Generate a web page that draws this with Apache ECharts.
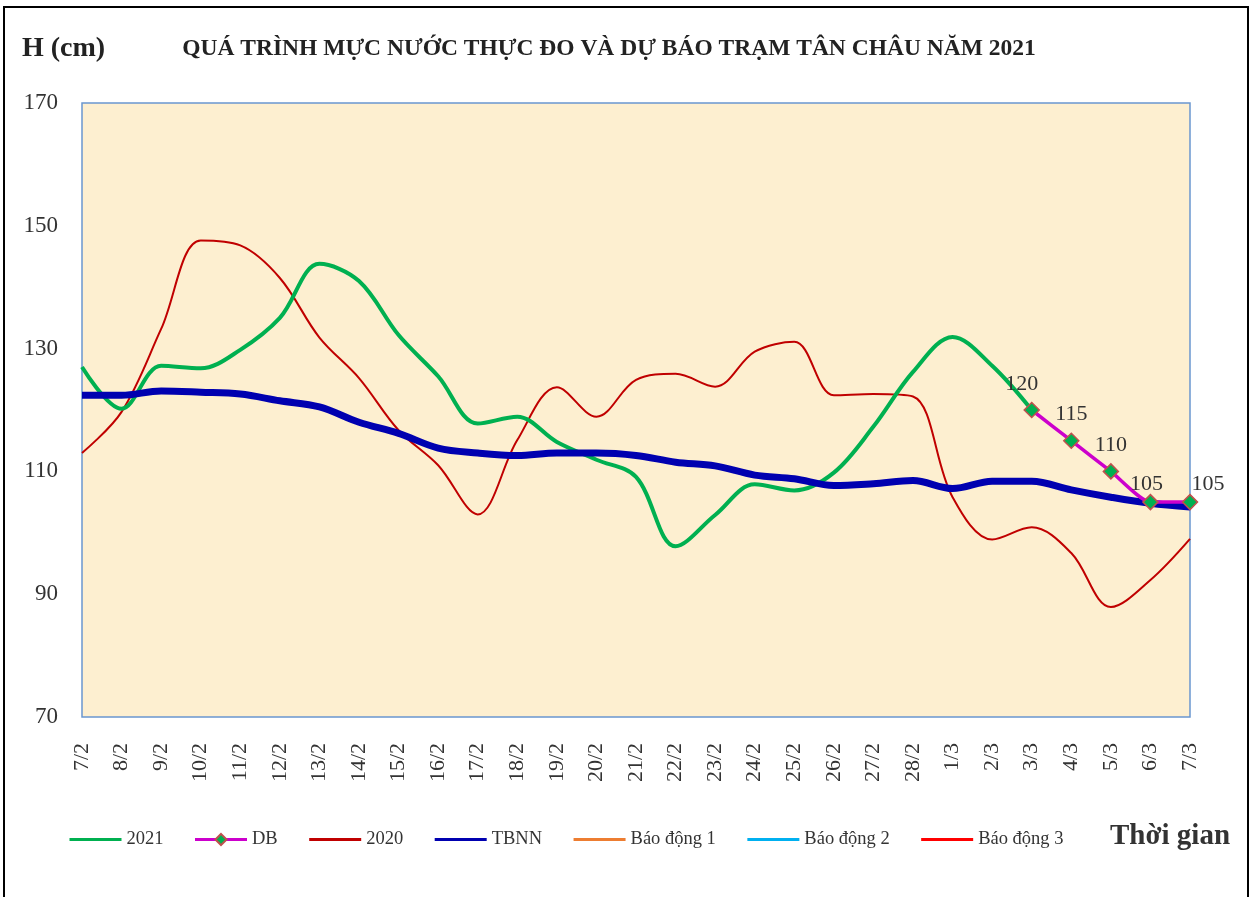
<!DOCTYPE html>
<html>
<head>
<meta charset="utf-8">
<script src="https://cdn.jsdelivr.net/npm/echarts@6/dist/echarts.min.js"></script>
<style>html,body{margin:0;padding:0;background:#fff;}#c{width:1256px;height:897px;}</style>
</head>
<body>
<div id="c"></div>
<script>
var categories = ['7/2','8/2','9/2','10/2','11/2','12/2','13/2','14/2','15/2','16/2','17/2','18/2','19/2','20/2','21/2','22/2','23/2','24/2','25/2','26/2','27/2','28/2','1/3','2/3','3/3','4/3','5/3','6/3','7/3'];
var s2021 = [127.0,120.2,127.2,126.8,129.8,135.0,143.8,141.0,132.2,125.5,117.8,118.9,114.8,111.9,109.1,97.8,102.9,107.9,106.9,109.8,117.3,126.2,131.9,127.2,120,null,null,null,null];
var sDB = [null,null,null,null,null,null,null,null,null,null,null,null,null,null,null,null,null,null,null,null,null,null,null,null,120,115,110,105,105];
var s2020 = [113.0,119.7,133.2,147.6,146.8,141.5,131.8,125.2,116.7,111.0,103.0,115.1,123.7,118.9,124.9,125.9,123.8,129.5,131.1,122.4,122.6,122.2,105.8,98.9,100.9,96.7,87.9,92.3,99.0];
var sTBNN = [122.4,122.4,123.1,122.9,122.6,121.5,120.5,118.0,116.2,113.8,113.0,112.6,113.0,113.0,112.6,111.5,110.9,109.4,108.8,107.7,108.0,108.5,107.2,108.4,108.4,107.0,105.8,104.8,104.2];
var sAlarm1 = [];
var sAlarm2 = [];
var sAlarm3 = [];
var legendNames = ['2021','DB','2020','TBNN','Báo động 1','Báo động 2','Báo động 3'];
var yTicks = {min: 70, max: 170, interval: 20};

var FONT = '"Liberation Serif","Times New Roman",serif';
var chart = echarts.init(document.getElementById('c'));

var dbData = sDB.map(function(v, i){
  if (v === null) return null;
  var off = [0, 0];
  if (i === 24) off = [-10, 0];
  if (i === 27) off = [-4, 8];
  if (i === 28) off = [18, 8];
  return {value: v, label: {offset: off}};
});

var legendData = legendNames.map(function(n){
  return n === 'DB' ? {name: n} : {name: n, itemStyle: {opacity: 0}};
});

chart.setOption({
  animation: false,
  backgroundColor: '#ffffff',
  title: {
    text: 'QUÁ TRÌNH MỰC NƯỚC THỰC ĐO VÀ DỰ BÁO TRẠM TÂN CHÂU NĂM 2021',
    left: 604, top: 32, textAlign: 'center',
    textStyle: {fontFamily: FONT, fontSize: 23.5, fontWeight: 'bold', color: '#222'}
  },
  graphic: [
    {type: 'rect', shape: {x: 4, y: 7, width: 1244, height: 910}, style: {fill: 'none', stroke: '#000', lineWidth: 2}, silent: true},
    {type: 'text', left: 22, top: 35, style: {text: 'H (cm)', font: 'bold 28px ' + FONT, fill: '#222'}},
    {type: 'text', left: 1110, top: 822, style: {text: 'Thời gian', font: 'bold 29px ' + FONT, fill: '#333'}}
  ],
  legend: {
    left: 68, top: 830, padding: 0,
    itemWidth: 52, itemHeight: 14, itemGap: 30,
    textStyle: {fontFamily: FONT, fontSize: 18.5, color: '#333'},
    lineStyle: {width: 3},
    data: legendData
  },
  grid: {
    left: 82, right: 66, top: 103, bottom: 180,
    show: true, backgroundColor: '#FDEFD0', borderColor: '#6A97CF', borderWidth: 1.5
  },
  xAxis: {
    type: 'category', data: categories, boundaryGap: false,
    axisLine: {show: false}, axisTick: {show: false},
    axisLabel: {rotate: 90, margin: 26, fontFamily: FONT, fontSize: 22, color: '#333', interval: 0}
  },
  yAxis: {
    type: 'value', min: yTicks.min, max: yTicks.max, interval: yTicks.interval,
    axisLine: {show: false}, axisTick: {show: false}, splitLine: {show: false},
    axisLabel: {margin: 24, fontFamily: FONT, fontSize: 23, color: '#333', padding: [8, 0, 0, 0]}
  },
  series: [
    {name: '2021', type: 'line', data: s2021, smooth: 0.35, symbol: 'none', z: 3,
     lineStyle: {color: '#00B050', width: 4}, itemStyle: {color: '#00B050'}},
    {name: 'DB', type: 'line', data: dbData, smooth: 0.2, symbol: 'diamond', symbolSize: 15, showSymbol: true, z: 5,
     lineStyle: {color: '#CC00CC', width: 3.5},
     itemStyle: {color: '#00B050', borderColor: '#C0504D', borderWidth: 1.5},
     label: {show: true, position: 'top', distance: 7, fontFamily: FONT, fontSize: 22, color: '#333'}},
    {name: '2020', type: 'line', data: s2020, smooth: 0.35, symbol: 'none', z: 2,
     lineStyle: {color: '#C00000', width: 2}, itemStyle: {color: '#C00000'}},
    {name: 'TBNN', type: 'line', data: sTBNN, smooth: 0.35, symbol: 'none', z: 4,
     lineStyle: {color: '#0000B0', width: 7}, itemStyle: {color: '#0000B0'}},
    {name: 'Báo động 1', type: 'line', data: sAlarm1, symbol: 'none', lineStyle: {color: '#ED7D31', width: 2}, itemStyle: {color: '#ED7D31'}},
    {name: 'Báo động 2', type: 'line', data: sAlarm2, symbol: 'none', lineStyle: {color: '#00B0F0', width: 2}, itemStyle: {color: '#00B0F0'}},
    {name: 'Báo động 3', type: 'line', data: sAlarm3, symbol: 'none', lineStyle: {color: '#FF0000', width: 2}, itemStyle: {color: '#FF0000'}}
  ]
});
</script>
</body>
</html>
